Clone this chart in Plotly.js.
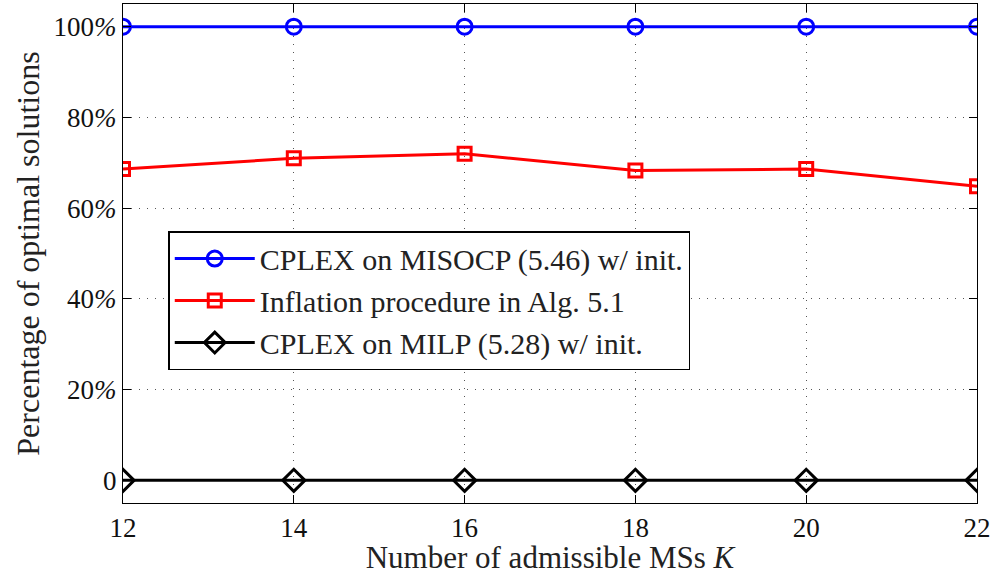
<!DOCTYPE html>
<html>
<head>
<meta charset="utf-8">
<script src="https://cdn.plot.ly/plotly-3.0.1.min.js"></script>
<style>html,body{margin:0;padding:0;background:#fff;}#chart{width:995px;height:575px;}</style>
</head>
<body>
<div id="chart"></div>
<script>
const K = [12, 14, 16, 18, 20, 22];
const misocp = [100, 100, 100, 100, 100, 100];
const inflation = [68.6, 71.0, 72.0, 68.3, 68.6, 64.8];
const milp = [0, 0, 0, 0, 0, 0];
const seriesNames = ["CPLEX on MISOCP (5.46) w/ init.", "Inflation procedure in Alg. 5.1", "CPLEX on MILP (5.28) w/ init."];
const yTickVals = [0, 20, 40, 60, 80, 100];
const yTickText = ["0", "20<i>%</i>", "40<i>%</i>", "60<i>%</i>", "80<i>%</i>", "100<i>%</i>"];

const font = "Liberation Serif";
const traces = [
  {x: K, y: misocp, name: seriesNames[0], mode: "lines+markers",
   line: {color: "#0000ff", width: 3},
   marker: {symbol: "circle-open", size: 15, color: "#0000ff", line: {width: 3, color: "#0000ff"}}},
  {x: K, y: inflation, name: seriesNames[1], mode: "lines+markers",
   line: {color: "#ff0000", width: 3},
   marker: {symbol: "square-open", size: 13, color: "#ff0000", line: {width: 3, color: "#ff0000"}}},
  {x: K, y: milp, name: seriesNames[2], mode: "lines+markers",
   line: {color: "#000000", width: 3},
   marker: {symbol: "diamond-open", size: 17, color: "#000000", line: {width: 3, color: "#000000"}}}
];

const axisCommon = {
  showline: true, linecolor: "#000", linewidth: 1.2, mirror: "ticks",
  ticks: "inside", ticklen: 8, tickwidth: 1, tickcolor: "#000",
  showgrid: true, gridcolor: "#555", griddash: "1px,7px", gridwidth: 1,
  zeroline: false,
  tickfont: {family: font, size: 27, color: "#111"}
};

const layout = {
  width: 995, height: 575,
  margin: {l: 123, r: 18, t: 4, b: 72},
  paper_bgcolor: "#fff", plot_bgcolor: "#fff",
  showlegend: true,
  legend: {
    x: 0.053, y: 0.545, xanchor: "left", yanchor: "top",
    bgcolor: "#fff", bordercolor: "#000", borderwidth: 1.5,
    font: {family: font, size: 30, color: "#222"},
    itemwidth: 80, tracegroupgap: 0
  },
  xaxis: Object.assign({}, axisCommon, {
    range: [12, 22], tickvals: K, ticktext: K.map(String),
    title: {text: "Number of admissible MSs <i>K</i>", font: {family: font, size: 31, color: "#222"}, standoff: 0}
  }),
  yaxis: Object.assign({}, axisCommon, {
    range: [-5, 105], tickvals: yTickVals, ticktext: yTickText,
    title: {text: "Percentage of optimal solutions", font: {family: font, size: 32, color: "#222"}, standoff: 4}
  })
};

Plotly.newPlot("chart", traces, layout, {displayModeBar: false, staticPlot: true});
</script>
</body>
</html>
